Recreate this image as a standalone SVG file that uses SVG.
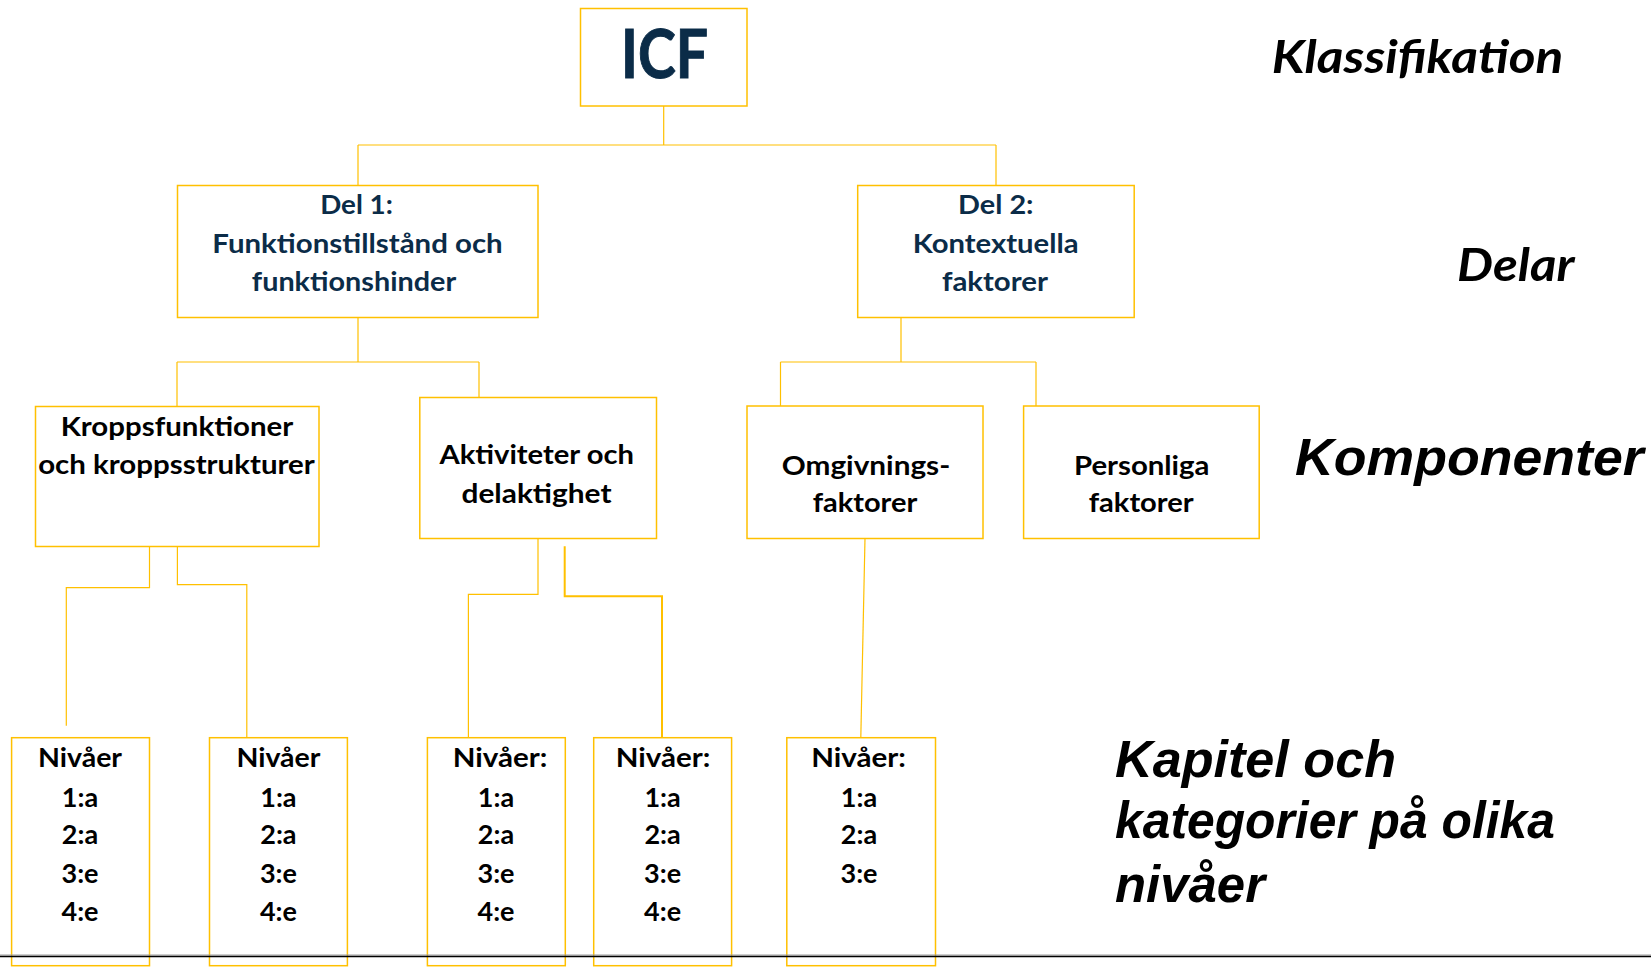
<svg xmlns="http://www.w3.org/2000/svg" width="1651" height="967" viewBox="0 0 1651 967">
<style>
.box{fill:#fff;stroke:#FFC000;stroke-width:1.5}
.con{fill:none;stroke:#FFC000;stroke-width:1.2}
.thick{stroke-width:2}
.navy{font-family:Lato,"Open Sans",sans-serif;font-weight:bold;fill:#0b2c48;text-anchor:middle}
.blk{font-family:Lato,"Open Sans",sans-serif;font-weight:bold;fill:#000;text-anchor:middle}
.lvl{font-family:Lato,"Open Sans",sans-serif;font-weight:bold;font-style:italic;fill:#000;font-size:46px}
.lbl{font-family:"Liberation Sans",Arial,sans-serif;font-weight:bold;font-style:italic;fill:#000;font-size:52px}
</style>
<rect width="1651" height="967" fill="#fff"/>
<g id="connectors">
<path class="con" d="M663.7,106 V145 M358,145 H996 M358,145 V185 M996,145 V185"/>
<path class="con" d="M358,317 V362 M177,362 H479 M177,362 V406 M479,362 V397"/>
<path class="con" d="M901,317 V362 M780.5,362 H1036 M780.5,362 V406 M1036,362 V406"/>
<path class="con" d="M149.5,546 V587.7 H66.3 V725.7"/>
<path class="con" d="M177.4,546 V584.7 H246.8 V740"/>
<path class="con" d="M538,538 V594.3 H468.4 V737.7"/>
<path class="con thick" d="M564.7,546.3 V596.3 H662 V737.7"/>
<path class="con" d="M865,538 L860.8,737.7"/>
</g>
<g id="icf">
<rect class="box" x="580.5" y="8.5" width="166.5" height="97.5"/>
<text class="navy" x="664.5" y="78" font-size="66" stroke="#0b2c48" stroke-width="1" textLength="87" lengthAdjust="spacingAndGlyphs">ICF</text>
</g>
<g id="del1">
<rect class="box" x="177.5" y="185.5" width="360.5" height="132"/>
<text class="navy" x="356.5" y="214.3" font-size="27" textLength="72.7" lengthAdjust="spacingAndGlyphs">Del 1:</text>
<text class="navy" x="357.5" y="253.3" font-size="27" textLength="290.4" lengthAdjust="spacingAndGlyphs">Funktionstillstånd och</text>
<text class="navy" x="354" y="291" font-size="27" textLength="204.3" lengthAdjust="spacingAndGlyphs">funktionshinder</text>
</g>
<g id="del2">
<rect class="box" x="857.7" y="185.5" width="276.5" height="132"/>
<text class="navy" x="995.8" y="214.3" font-size="27" textLength="75.5" lengthAdjust="spacingAndGlyphs">Del 2:</text>
<text class="navy" x="995.7" y="253.3" font-size="27" textLength="165.8" lengthAdjust="spacingAndGlyphs">Kontextuella</text>
<text class="navy" x="994.9" y="291" font-size="27" textLength="106" lengthAdjust="spacingAndGlyphs">faktorer</text>
</g>
<g id="kropps">
<rect class="box" x="35.5" y="406.5" width="283.5" height="140"/>
<text class="blk" x="177" y="435.6" font-size="27" textLength="232.7" lengthAdjust="spacingAndGlyphs">Kroppsfunktioner</text>
<text class="blk" x="176.5" y="474" font-size="27" textLength="276.7" lengthAdjust="spacingAndGlyphs">och kroppsstrukturer</text>
</g>
<g id="aktiviteter">
<rect class="box" x="419.8" y="397.5" width="236.7" height="141"/>
<text class="blk" x="536.7" y="464.3" font-size="27" textLength="194.6" lengthAdjust="spacingAndGlyphs">Aktiviteter och</text>
<text class="blk" x="536.5" y="503.3" font-size="27" textLength="150" lengthAdjust="spacingAndGlyphs">delaktighet</text>
</g>
<g id="omgivnings">
<rect class="box" x="747" y="406" width="236" height="132.5"/>
<text class="blk" x="866" y="475" font-size="27" textLength="168.5" lengthAdjust="spacingAndGlyphs">Omgivnings-</text>
<text class="blk" x="865" y="511.7" font-size="27" textLength="104.6" lengthAdjust="spacingAndGlyphs">faktorer</text>
</g>
<g id="personliga">
<rect class="box" x="1023.6" y="406" width="235.6" height="132.5"/>
<text class="blk" x="1141.7" y="475" font-size="27" textLength="135.5" lengthAdjust="spacingAndGlyphs">Personliga</text>
<text class="blk" x="1141.2" y="511.7" font-size="27" textLength="105" lengthAdjust="spacingAndGlyphs">faktorer</text>
</g>
<g id="niva1">
<rect class="box" x="11.6" y="737.7" width="137.9" height="228"/>
<text class="blk" x="80" y="767.3" font-size="27" textLength="84" lengthAdjust="spacingAndGlyphs">Nivåer</text>
<text class="blk" x="80" y="806.7" font-size="27">1:a</text>
<text class="blk" x="80" y="844.3" font-size="27">2:a</text>
<text class="blk" x="80" y="882.7" font-size="27">3:e</text>
<text class="blk" x="80" y="921" font-size="27">4:e</text>
</g>
<g id="niva2">
<rect class="box" x="209.5" y="737.7" width="137.9" height="228"/>
<text class="blk" x="278.4" y="767.3" font-size="27" textLength="84" lengthAdjust="spacingAndGlyphs">Nivåer</text>
<text class="blk" x="278.4" y="806.7" font-size="27">1:a</text>
<text class="blk" x="278.4" y="844.3" font-size="27">2:a</text>
<text class="blk" x="278.4" y="882.7" font-size="27">3:e</text>
<text class="blk" x="278.4" y="921" font-size="27">4:e</text>
</g>
<g id="niva3">
<rect class="box" x="427.4" y="737.7" width="137.9" height="228"/>
<text class="blk" x="500" y="767.3" font-size="27" textLength="94.7" lengthAdjust="spacingAndGlyphs">Nivåer:</text>
<text class="blk" x="496" y="806.7" font-size="27">1:a</text>
<text class="blk" x="496" y="844.3" font-size="27">2:a</text>
<text class="blk" x="496" y="882.7" font-size="27">3:e</text>
<text class="blk" x="496" y="921" font-size="27">4:e</text>
</g>
<g id="niva4">
<rect class="box" x="593.7" y="737.7" width="137.9" height="228"/>
<text class="blk" x="663" y="767.3" font-size="27" textLength="94.7" lengthAdjust="spacingAndGlyphs">Nivåer:</text>
<text class="blk" x="662.6" y="806.7" font-size="27">1:a</text>
<text class="blk" x="662.6" y="844.3" font-size="27">2:a</text>
<text class="blk" x="662.6" y="882.7" font-size="27">3:e</text>
<text class="blk" x="662.6" y="921" font-size="27">4:e</text>
</g>
<g id="niva5">
<rect class="box" x="786.8" y="737.7" width="148.7" height="228"/>
<text class="blk" x="858.5" y="767.3" font-size="27" textLength="94.7" lengthAdjust="spacingAndGlyphs">Nivåer:</text>
<text class="blk" x="859" y="806.7" font-size="27">1:a</text>
<text class="blk" x="859" y="844.3" font-size="27">2:a</text>
<text class="blk" x="859" y="882.7" font-size="27">3:e</text>
</g>
<g id="levels">
<text class="lvl" x="1271.7" y="73.3" textLength="291.7" lengthAdjust="spacingAndGlyphs">Klassifikation</text>
<text class="lvl" x="1457" y="280.7" textLength="117.5" lengthAdjust="spacingAndGlyphs">Delar</text>
<text class="lbl" x="1295" y="475" font-size="53.5" textLength="348.6" lengthAdjust="spacingAndGlyphs">Komponenter</text>
<text class="lbl" x="1115" y="776.7" textLength="281" lengthAdjust="spacingAndGlyphs">Kapitel och</text>
<text class="lbl" x="1115" y="838" textLength="440" lengthAdjust="spacingAndGlyphs">kategorier på olika</text>
<text class="lbl" x="1115" y="902" textLength="150" lengthAdjust="spacingAndGlyphs">nivåer</text>
</g>
<g id="baseline">
<line x1="0" y1="955" x2="1651" y2="955" stroke="#9a9a9a" stroke-width="1"/>
<line x1="0" y1="956.5" x2="1651" y2="956.5" stroke="#000" stroke-width="1.5"/>
</g>
</svg>
